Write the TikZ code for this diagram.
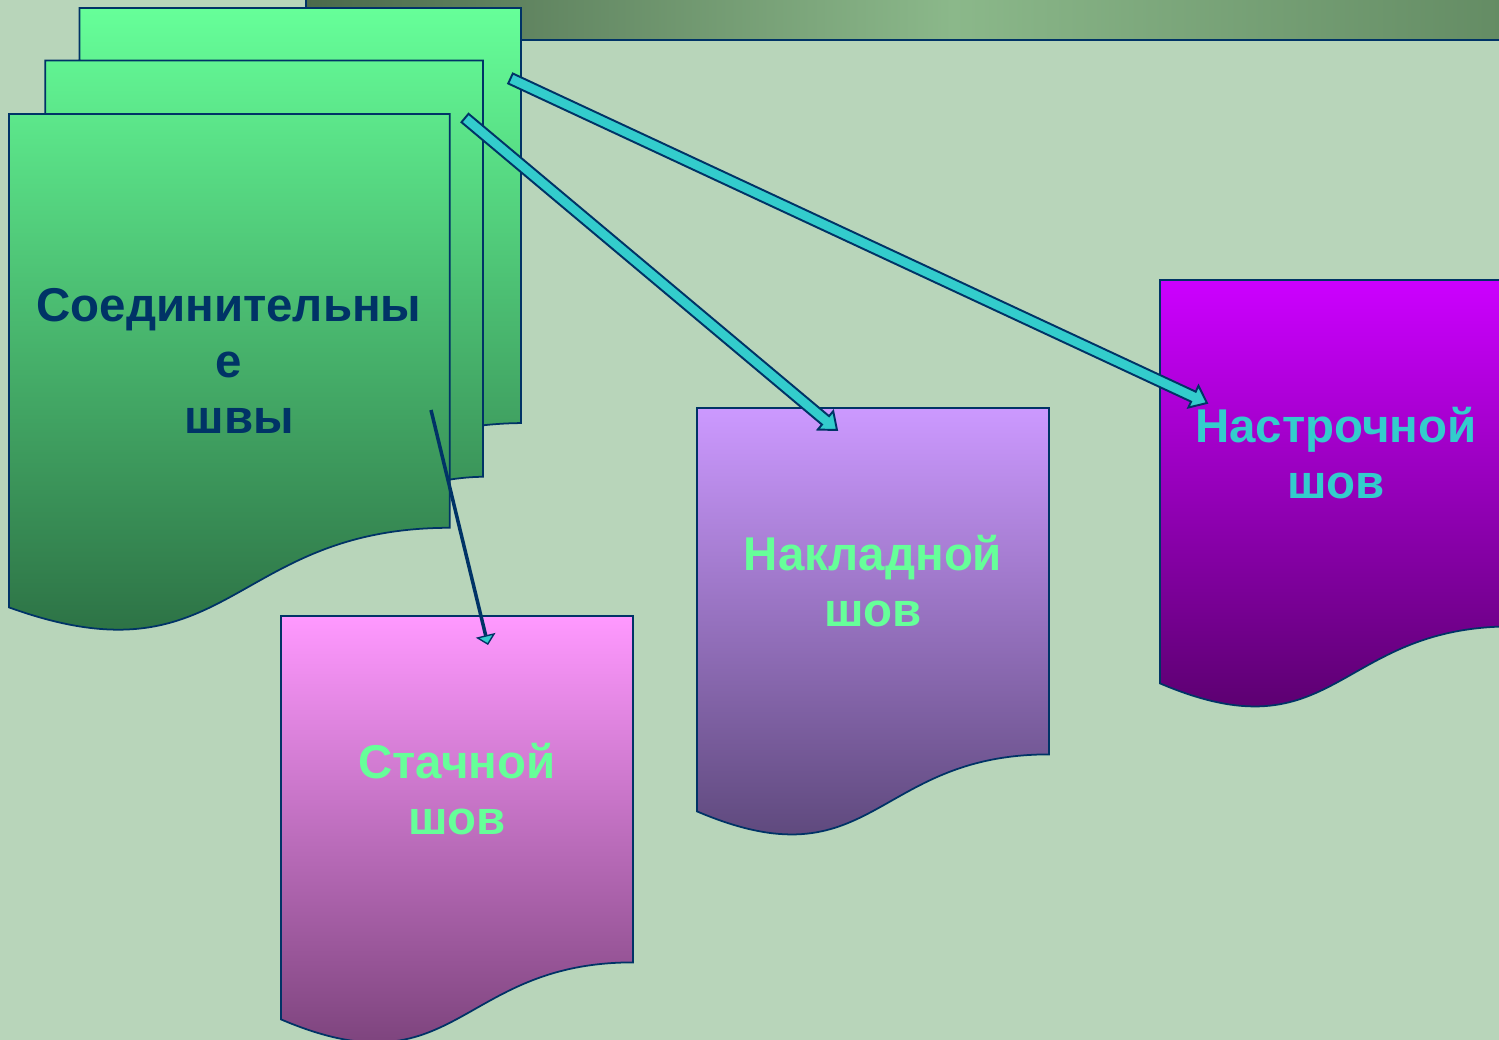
\documentclass[tikz,border=0pt]{standalone}
\usepackage{fontspec}
\setmainfont{Liberation Sans}
\usepackage{xcolor}
\usepackage{tikz}
\usetikzlibrary{arrows.meta, calc, positioning}
\definecolor{seambg}{HTML}{B8D5BA}
\definecolor{seamnavy}{HTML}{003366}
\definecolor{seamcyan}{HTML}{33CCCC}
\definecolor{seamgreen}{HTML}{66FF99}
\definecolor{multitop}{HTML}{66FF99}
\definecolor{multibot}{HTML}{28663E}
\definecolor{pinktop}{HTML}{FF99FF}
\definecolor{pinkbot}{HTML}{6E3A6E}
\definecolor{lavtop}{HTML}{CC99FF}
\definecolor{lavbot}{HTML}{52406E}
\definecolor{magtop}{HTML}{CC00FF}
\definecolor{magbot}{HTML}{4F0060}
\definecolor{bardark}{HTML}{4B6A4B}
\definecolor{barlight}{HTML}{8BB88A}
\definecolor{barright}{HTML}{5D845D}

\tikzset{
  docshape/.style={draw=seamnavy, line width=1pt},
  doctext/.style={inner sep=0pt, align=center,
    font=\bfseries\fontsize{27}{32}\selectfont},
  blockarr/.style={fill=seamcyan, draw=seamnavy, line width=1.1pt, line join=miter},
  thinarr/.style={draw=seamnavy, line width=2pt,
    -{Triangle[line width=0.8pt, fill=seamcyan, length=0.2cm, width=0.4cm]}}
}

\newcommand{\blockarrow}[2]{%
  \coordinate (hb) at ($(#2)!0.3cm!(#1)$);
  \draw[blockarr] ($(#1)!0.11cm!90:(#2)$) -- ($(hb)!0.11cm!90:(#2)$)
    -- ($(hb)!0.24cm!90:(#2)$) -- (#2) -- ($(hb)!0.24cm!-90:(#2)$)
    -- ($(hb)!0.11cm!-90:(#2)$) -- ($(#1)!0.11cm!-90:(#2)$) -- cycle;}

\begin{document}
\begin{tikzpicture}[x=0.02cm, y=-0.02cm]
  \useasboundingbox (0,0) rectangle (1499,1040);
  \clip (0,0) rectangle (1499,1040);
  \fill[seambg] (0,0) rectangle (1499,1040);
  \shade[docshape, left color=bardark, right color=barright, middle color=barlight]
    (306,-20) rectangle (1600,40);
  \shade[docshape, top color=multitop, bottom color=multibot]
    (9,607.4) .. controls (229.4,687) and (229.4,527.8) .. (449.8,527.8)
      -- (449.8,114) -- (9,114) -- cycle
    (45.3,114) -- (45.3,60.4) -- (483.1,60.4) -- (483.1,476.8)
      .. controls (466.4,476.8) and (449.8,479.6) .. (449.8,479.6) -- (449.8,114) -- cycle
    (79.4,60.4) -- (79.4,8) -- (521,8) -- (521,423.1)
      .. controls (502,423.1) and (483.1,425.3) .. (483.1,425.3) -- (483.1,60.4) -- cycle;
  \node[doctext, text=seamnavy] (join) at (229,361) {Соединительны\\е\\\hspace*{12pt}швы};
  \def\dw{352}
  \foreach \xx/\yy/\ctop/\cbot/\ctxt/\nm/\lbl in {
      281/616/pinktop/pinkbot/seamgreen/stach/{Стачной\\шов},
      697/408/lavtop/lavbot/seamgreen/nakl/{Накладной\\шов},
      1160/280/magtop/magbot/seamcyan/nastr/{Настрочной\\шов}}
  {
    \begin{scope}[shift={(\xx,\yy)}]
      \shade[docshape, top color=\ctop, bottom color=\cbot]
        (0,0) -- (\dw,0) -- (\dw,346.4) .. controls (176,346.4) and (176,478.4) .. (0,403.4) -- cycle;
      \node[doctext, text=\ctxt] (\nm) at (176,173) {\lbl};
    \end{scope}
  }
  \coordinate (src-a) at (510.5,78.5);
  \coordinate (src-b) at (465,118);
  \coordinate (src-c) at (431,410);
  \coordinate (nastr-tip) at (1207,403);
  \coordinate (nakl-tip) at (837,430);
  \coordinate (stach-tip) at (488,645);
  \draw[thinarr] (src-c) -- (stach-tip);
  \blockarrow{src-b}{nakl-tip}
  \blockarrow{src-a}{nastr-tip}
\end{tikzpicture}
\end{document}
